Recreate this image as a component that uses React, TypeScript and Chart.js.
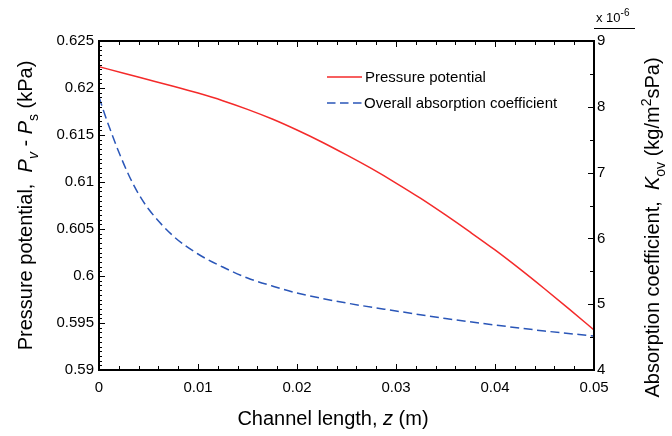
import React, { useEffect, useRef } from 'react';
import { Chart, registerables } from 'chart.js';

Chart.register(...registerables);

// ---- data ----
const Z_P = [0, 0.0025, 0.005, 0.0075, 0.01, 0.0125, 0.015, 0.0175, 0.02, 0.0225, 0.025, 0.0275, 0.03, 0.0325, 0.035, 0.0375, 0.04, 0.0425, 0.045, 0.0475, 0.05];
const PRESSURE = [0.62227, 0.62156, 0.62088, 0.62019, 0.61946, 0.61865, 0.61773, 0.6167, 0.61553, 0.61426, 0.61288, 0.61144, 0.60989, 0.60825, 0.60649, 0.60466, 0.60277, 0.60075, 0.59864, 0.59647, 0.59426];

const Z_K = [0, 0.0005, 0.001, 0.002, 0.003, 0.004, 0.005, 0.0075, 0.01, 0.0125, 0.015, 0.0175, 0.02, 0.025, 0.03, 0.035, 0.04, 0.045, 0.05];
const K_OV = [8.149, 7.921, 7.708, 7.313, 6.964, 6.675, 6.447, 6.036, 5.763, 5.565, 5.398, 5.277, 5.17, 5.018, 4.897, 4.783, 4.684, 4.593, 4.517]; // x 10^-6

const X_TICKS = [0, 0.01, 0.02, 0.03, 0.04, 0.05];
const LEFT_TICKS = [0.59, 0.595, 0.6, 0.605, 0.61, 0.615, 0.62, 0.625];
const RIGHT_TICKS = [4, 5, 6, 7, 8, 9];

const X_MINOR = 0.002;
const LEFT_MINOR = 0.0005;
const RIGHT_MINOR = 0.5;

const SERIES_NAMES = ['Pressure potential', 'Overall absorption coefficient'];
const RED = '#f42a2a';
const BLUE = '#2a56b8';
const FAM = '"Liberation Sans", Arial, Helvetica, sans-serif';

type Seg = { t: string; it?: boolean; sub?: boolean; sup?: boolean };

const X_TITLE: Seg[] = [{ t: 'Channel length, ' }, { t: 'z', it: true }, { t: ' (m)' }];
const Y_TITLE: Seg[] = [
  { t: 'Pressure potential,  ' }, { t: 'P', it: true }, { t: 'v', it: true, sub: true },
  { t: ' - ' }, { t: 'P', it: true }, { t: 's', sub: true }, { t: ' (kPa)' },
];
const Y2_TITLE: Seg[] = [
  { t: 'Absorption coefficient,  ' }, { t: 'K', it: true }, { t: 'ov', sub: true },
  { t: ' (kg/m' }, { t: '2', sup: true }, { t: 'sPa)' },
];

function drawRich(ctx: CanvasRenderingContext2D, segs: Seg[], cx: number, cy: number, rot: number, size: number) {
  ctx.save();
  ctx.translate(cx, cy);
  ctx.rotate(rot);
  ctx.fillStyle = '#000';
  ctx.textAlign = 'left';
  ctx.textBaseline = 'alphabetic';
  const fontFor = (s: Seg) => `${s.it ? 'italic ' : ''}${s.sub || s.sup ? Math.round(size * 0.7) : size}px ${FAM}`;
  let total = 0;
  const widths = segs.map((s) => {
    ctx.font = fontFor(s);
    const w = ctx.measureText(s.t).width;
    total += w;
    return w;
  });
  let x = -total / 2;
  const base = size * 0.36;
  segs.forEach((s, i) => {
    ctx.font = fontFor(s);
    const dy = s.sub ? size * 0.28 : s.sup ? -size * 0.4 : 0;
    ctx.fillText(s.t, x, base + dy);
    x += widths[i];
  });
  ctx.restore();
}

const decorPlugin = {
  id: 'decor',
  afterDraw(chart: any) {
    const { ctx, chartArea: a, scales } = chart;
    const xs = scales.x, yl = scales.y, yr = scales.y2;
    ctx.save();
    // inward ticks
    ctx.strokeStyle = '#000';
    ctx.lineWidth = 1;
    ctx.beginPath();
    const nx = Math.round((xs.max - xs.min) / X_MINOR);
    for (let i = 0; i <= nx; i++) {
      const v = xs.min + i * X_MINOR;
      const p = Math.round(xs.getPixelForValue(v)) + 0.5;
      const L = i % 5 === 0 ? 6 : 4;
      ctx.moveTo(p, a.bottom); ctx.lineTo(p, a.bottom - L);
      ctx.moveTo(p, a.top); ctx.lineTo(p, a.top + L);
    }
    const nl = Math.round((yl.max - yl.min) / LEFT_MINOR);
    for (let i = 0; i <= nl; i++) {
      const v = yl.min + i * LEFT_MINOR;
      const p = Math.round(yl.getPixelForValue(v)) + 0.5;
      const L = i % 10 === 0 ? 6 : 3;
      ctx.moveTo(a.left, p); ctx.lineTo(a.left + L, p);
    }
    const nr = Math.round((yr.max - yr.min) / RIGHT_MINOR);
    for (let i = 0; i <= nr; i++) {
      const v = yr.min + i * RIGHT_MINOR;
      const p = Math.round(yr.getPixelForValue(v)) + 0.5;
      const L = i % 2 === 0 ? 6 : 4;
      ctx.moveTo(a.right, p); ctx.lineTo(a.right - L, p);
    }
    ctx.stroke();
    // frame
    ctx.lineWidth = 2;
    ctx.strokeRect(a.left, a.top, a.right - a.left, a.bottom - a.top);

    // legend
    const lx = a.left + 228, ly1 = a.top + 36, ly2 = a.top + 62;
    ctx.lineWidth = 1.5;
    ctx.strokeStyle = RED;
    ctx.setLineDash([]);
    ctx.beginPath(); ctx.moveTo(lx, ly1); ctx.lineTo(lx + 35, ly1); ctx.stroke();
    ctx.strokeStyle = BLUE;
    ctx.setLineDash([8.5, 4.5]);
    ctx.beginPath(); ctx.moveTo(lx, ly2); ctx.lineTo(lx + 35, ly2); ctx.stroke();
    ctx.setLineDash([]);
    ctx.fillStyle = '#000';
    ctx.font = `15px ${FAM}`;
    ctx.textAlign = 'left';
    ctx.textBaseline = 'middle';
    ctx.fillText(SERIES_NAMES[0], lx + 38, ly1 + 1);
    ctx.fillText(SERIES_NAMES[1], lx + 37, ly2 + 1);

    // exponent label
    ctx.textBaseline = 'alphabetic';
    ctx.font = `13px ${FAM}`;
    ctx.fillText('x 10', a.right + 2, 22);
    const w = ctx.measureText('x 10').width;
    ctx.font = `10px ${FAM}`;
    ctx.fillText('-6', a.right + 2 + w, 16);
    ctx.lineWidth = 1;
    ctx.strokeStyle = '#000';
    ctx.beginPath(); ctx.moveTo(a.right, 28.5); ctx.lineTo(a.right + 41, 28.5); ctx.stroke();

    // axis titles
    drawRich(ctx, X_TITLE, 333, 418, 0, 20);
    drawRich(ctx, Y_TITLE, 25, (a.top + a.bottom) / 2, -Math.PI / 2, 20);
    drawRich(ctx, Y2_TITLE, 652, (a.top + a.bottom) / 2 + 22, -Math.PI / 2, 20);
    ctx.restore();
  },
};

const fmt = (v: number) => String(Number(v.toFixed(4)));

export default function App() {
  const ref = useRef<HTMLCanvasElement>(null);
  useEffect(() => {
    if (!ref.current) return;
    const tickFont = { family: FAM, size: 15 };
    const chart = new Chart(ref.current, {
      type: 'line',
      data: {
        datasets: [
          {
            label: SERIES_NAMES[0],
            data: Z_P.map((z, i) => ({ x: z, y: PRESSURE[i] })),
            borderColor: RED,
            borderWidth: 1.5,
            pointRadius: 0,
            cubicInterpolationMode: 'monotone',
            yAxisID: 'y',
          },
          {
            label: SERIES_NAMES[1],
            data: Z_K.map((z, i) => ({ x: z, y: K_OV[i] })),
            borderColor: BLUE,
            borderWidth: 1.5,
            borderDash: [9, 4.5],
            pointRadius: 0,
            cubicInterpolationMode: 'monotone',
            yAxisID: 'y2',
          },
        ],
      },
      options: {
        responsive: false,
        animation: false,
        devicePixelRatio: 1,
        layout: { padding: { top: 41, left: 0, right: 0, bottom: 0 } },
        plugins: { legend: { display: false }, tooltip: { enabled: false } },
        scales: {
          x: {
            type: 'linear', position: 'bottom', min: 0, max: 0.05,
            grid: { display: false, drawTicks: false }, border: { display: false },
            ticks: { font: tickFont, color: '#000', padding: 9, maxRotation: 0, callback: (v: any) => fmt(Number(v)) },
            afterBuildTicks: (s: any) => { s.ticks = X_TICKS.map((v) => ({ value: v })); },
            afterFit: (s: any) => { s.height = 66; },
          },
          y: {
            type: 'linear', position: 'left', min: 0.59, max: 0.625,
            grid: { display: false, drawTicks: false }, border: { display: false },
            ticks: { font: tickFont, color: '#000', padding: 5, callback: (v: any) => fmt(Number(v)) },
            afterBuildTicks: (s: any) => { s.ticks = LEFT_TICKS.map((v) => ({ value: v })); },
            afterFit: (s: any) => { s.width = 99; },
          },
          y2: {
            type: 'linear', position: 'right', min: 4, max: 9,
            grid: { display: false, drawTicks: false }, border: { display: false },
            ticks: { font: tickFont, color: '#000', padding: 3, callback: (v: any) => fmt(Number(v)) },
            afterBuildTicks: (s: any) => { s.ticks = RIGHT_TICKS.map((v) => ({ value: v })); },
            afterFit: (s: any) => { s.width = 78; },
          },
        },
      },
      plugins: [decorPlugin],
    } as any);
    return () => chart.destroy();
  }, []);
  return (
    <div style={{ position: 'fixed', left: 0, top: 0, width: 672, height: 436, background: '#fff' }}>
      <canvas ref={ref} width={672} height={436} style={{ display: 'block', width: 672, height: 436 }} />
    </div>
  );
}
